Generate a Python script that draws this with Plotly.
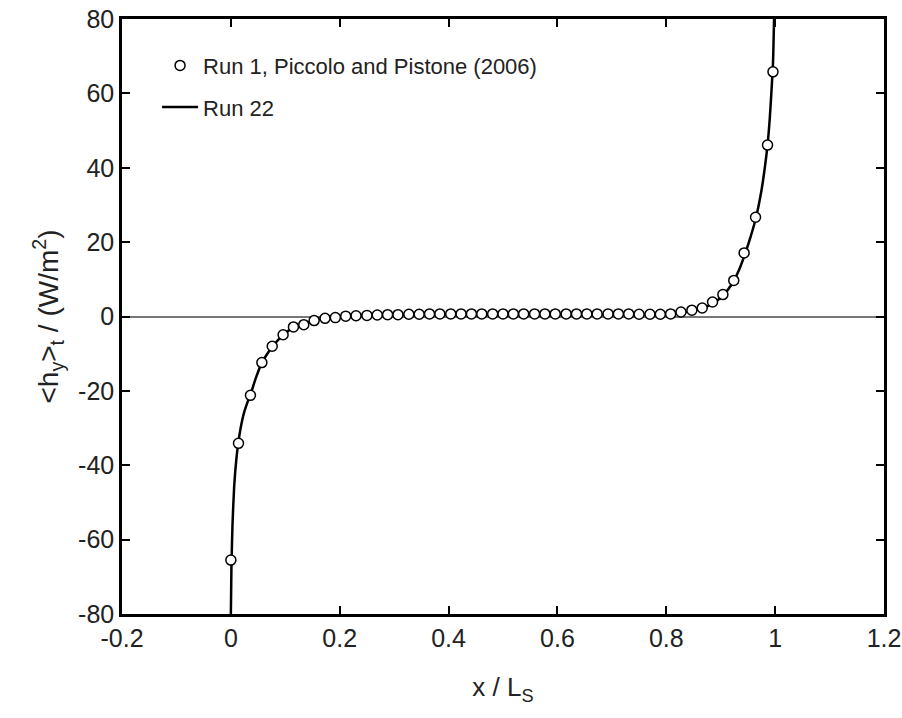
import plotly.graph_objects as go

# Run 1, Piccolo and Pistone (2006) -- open circles
run1_x = [0.000, 0.014, 0.036, 0.057, 0.076, 0.096, 0.115, 0.134, 0.153, 0.173,
          0.192, 0.211, 0.230, 0.250, 0.269, 0.288, 0.307, 0.327, 0.346, 0.365,
          0.384, 0.404, 0.423, 0.442, 0.461, 0.481, 0.500, 0.519, 0.538, 0.558,
          0.577, 0.596, 0.616, 0.635, 0.654, 0.673, 0.693, 0.712, 0.731, 0.750,
          0.770, 0.789, 0.808, 0.827, 0.847, 0.866, 0.885, 0.904, 0.924, 0.943,
          0.964, 0.986, 0.996]
run1_y = [-65.5, -34.1, -21.2, -12.4, -8.0, -4.9, -2.8, -2.2, -1.1, -0.5,
          -0.3, 0.1, 0.2, 0.3, 0.4, 0.5, 0.5, 0.6, 0.6, 0.7,
          0.7, 0.7, 0.7, 0.7, 0.7, 0.7, 0.7, 0.7, 0.7, 0.7,
          0.7, 0.7, 0.7, 0.7, 0.7, 0.7, 0.7, 0.7, 0.7, 0.6,
          0.6, 0.6, 0.7, 1.2, 1.7, 2.3, 3.9, 5.9, 9.7, 17.1,
          26.7, 46.1, 65.8]

# Run 22 -- solid line
run22_x = [0.000, 0.001, 0.003, 0.006, 0.010, 0.0135, 0.018, 0.024, 0.030, 0.036,
           0.046, 0.057, 0.067, 0.077, 0.087, 0.096, 0.106, 0.115, 0.134, 0.153,
           0.173, 0.200, 0.250, 0.300, 0.400, 0.500, 0.600, 0.700, 0.780, 0.810,
           0.830, 0.850, 0.870, 0.890, 0.905, 0.920, 0.935, 0.945, 0.955, 0.965,
           0.975, 0.981, 0.986, 0.990, 0.993, 0.996, 0.998]
run22_y = [-80.0, -68.0, -56.0, -46.0, -38.5, -34.1, -30.0, -26.0, -23.3, -21.0,
           -16.5, -12.4, -10.0, -8.0, -6.3, -5.0, -3.8, -3.0, -1.9, -1.1,
           -0.5, 0.0, 0.4, 0.5, 0.6, 0.6, 0.6, 0.6, 0.6, 0.8,
           1.1, 1.6, 2.4, 3.9, 5.8, 8.6, 13.0, 17.0, 21.5, 26.7,
           34.0, 40.0, 46.1, 53.0, 60.0, 68.0, 80.0]

x_ticks = [-0.2, 0, 0.2, 0.4, 0.6, 0.8, 1, 1.2]
x_ticktext = ["-0.2", "0", "0.2", "0.4", "0.6", "0.8", "1", "1.2"]
y_ticks = [-80, -60, -40, -20, 0, 20, 40, 60, 80]
y_ticktext = ["-80", "-60", "-40", "-20", "0", "20", "40", "60", "80"]

FONT = "Liberation Sans, Arial, sans-serif"
TXT = "#222"

fig = go.Figure()
fig.add_trace(go.Scatter(
    x=run22_x, y=run22_y, mode="lines", name="Run 22",
    line=dict(color="black", width=2.5, shape="spline", smoothing=0.6),
    legendrank=2, legendgroup="b",
))
fig.add_trace(go.Scatter(
    x=run1_x, y=run1_y, mode="markers", name="Run 1, Piccolo and Pistone (2006)",
    marker=dict(symbol="circle", size=10, color="white",
                line=dict(color="black", width=1.5)),
    legendrank=1, legendgroup="a",
))

axis_common = dict(
    showline=True, linecolor="black", linewidth=2.5, mirror="ticks",
    ticks="inside", ticklen=8, tickwidth=2, tickcolor="black",
    showgrid=False, automargin=False,
    tickfont=dict(family=FONT, size=25, color=TXT),
)

fig.update_layout(
    width=902, height=718,
    margin=dict(l=122, r=18, t=19, b=104),
    paper_bgcolor="white", plot_bgcolor="white",
    font=dict(family=FONT, size=25, color=TXT),
    showlegend=True,
    legend=dict(x=0.046, y=0.957, xanchor="left", yanchor="top",
                bgcolor="rgba(0,0,0,0)", borderwidth=0,
                font=dict(family=FONT, size=22, color=TXT),
                tracegroupgap=10, itemwidth=36),
    xaxis=dict(range=[-0.2, 1.2000001], tickvals=x_ticks, ticktext=x_ticktext,
               zeroline=False,
               title=dict(text="x / L<sub>S</sub>", font=dict(family=FONT, size=26, color=TXT),
                          standoff=28),
               **axis_common),
    yaxis=dict(range=[-80, 80], tickvals=y_ticks, ticktext=y_ticktext, zeroline=True,
               zerolinecolor="#777", zerolinewidth=1.5,
               title=dict(text="&lt;h<sub>y</sub>&gt;<sub>t</sub> / (W/m<sup>2</sup>)",
                          font=dict(family=FONT, size=28, color=TXT), standoff=12),
               **axis_common),
)

fig.write_html("out.html")
